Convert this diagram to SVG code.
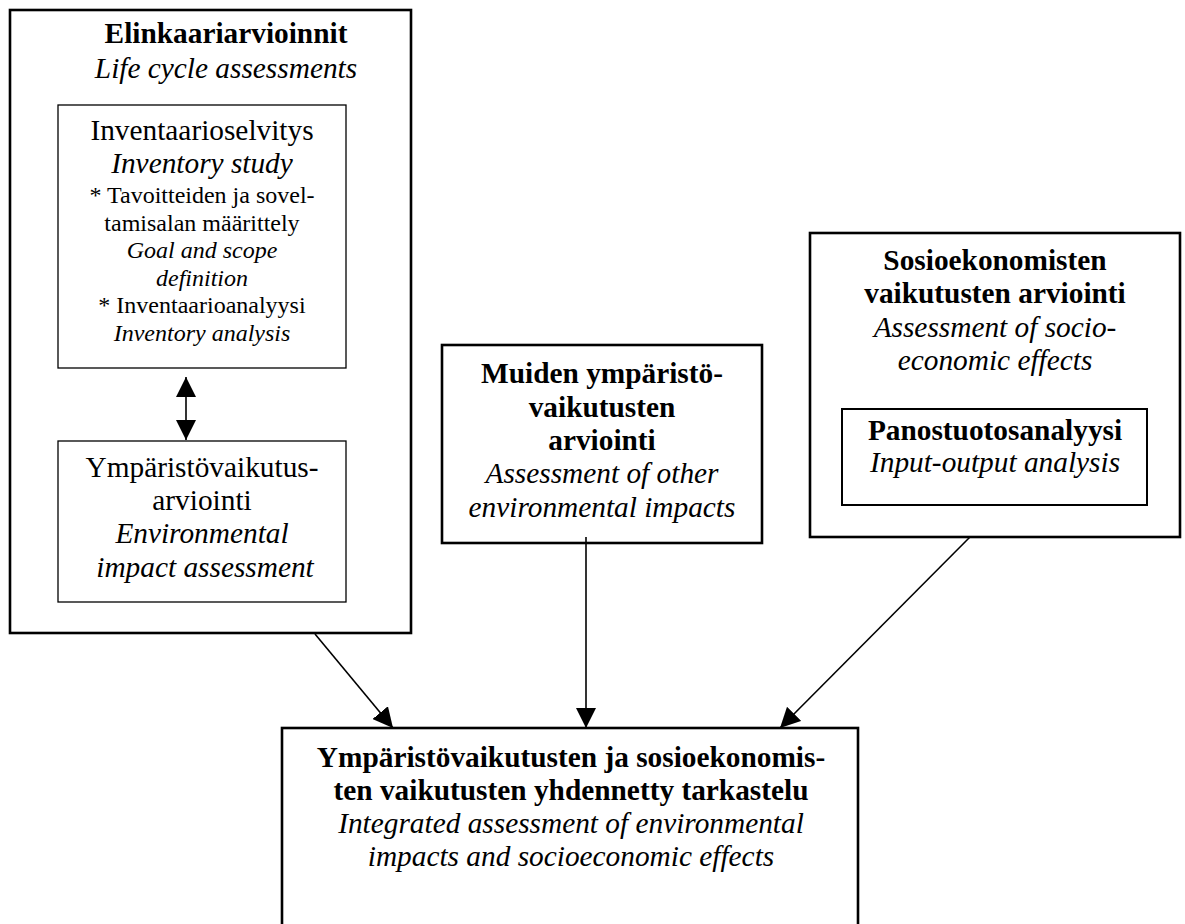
<svg xmlns="http://www.w3.org/2000/svg" width="1185" height="924" viewBox="0 0 1185 924">
  <style>
    text { font-family: "Liberation Serif", "Times New Roman", serif; fill: #000; text-anchor: middle; }
    .big { font-size: 29.33px; }
    .small { font-size: 24px; }
    .b { font-weight: bold; }
    .i { font-style: italic; }
    .outer { fill: #fff; stroke: #000; stroke-width: 2.6; }
    .inner { fill: #fff; stroke: #000; stroke-width: 1.3; }
    .inner2 { fill: #fff; stroke: #000; stroke-width: 2; }
    .conn { stroke: #000; stroke-width: 1.6; fill: none; }
  </style>
  <defs>
    <marker id="head" markerUnits="userSpaceOnUse" markerWidth="20" markerHeight="20" refX="20" refY="10" orient="auto-start-reverse" viewBox="0 0 20 20">
      <path d="M0,0 L20,10 L0,20 z" fill="#000"/>
    </marker>
  </defs>
  <rect width="1185" height="924" fill="#fff"/>

  <!-- Life cycle assessments (outer frame with two sub-boxes) -->
  <g id="lca">
    <rect class="outer" x="10" y="10" width="401" height="623"/>
    <text class="big b" x="226" y="43">Elinkaariarvioinnit</text>
    <text class="big i" x="226" y="78">Life cycle assessments</text>
  </g>
  <g id="inventory">
    <rect class="inner" x="58" y="105" width="288" height="263"/>
    <text class="big" x="202" y="140">Inventaarioselvitys</text>
    <text class="big i" x="202" y="173">Inventory study</text>
    <text class="small" x="202" y="203">* Tavoitteiden ja sovel-</text>
    <text class="small" x="202" y="230.5">tamisalan määrittely</text>
    <text class="small i" x="202" y="258">Goal and scope</text>
    <text class="small i" x="202" y="285.5">definition</text>
    <text class="small" x="202" y="313">* Inventaarioanalyysi</text>
    <text class="small i" x="202" y="341">Inventory analysis</text>
  </g>
  <g id="impact">
    <rect class="inner" x="58" y="441" width="288" height="161"/>
    <text class="big" x="202" y="477">Ympäristövaikutus-</text>
    <text class="big" x="202" y="510">arviointi</text>
    <text class="big i" x="202" y="543">Environmental</text>
    <text class="big i" x="205" y="577">impact assessment</text>
  </g>

  <!-- Other environmental impacts -->
  <g id="other">
    <rect class="outer" x="442" y="345" width="320" height="198"/>
    <text class="big b" x="602" y="383">Muiden ympäristö-</text>
    <text class="big b" x="602" y="417">vaikutusten</text>
    <text class="big b" x="602" y="450">arviointi</text>
    <text class="big i" x="602" y="483">Assessment of other</text>
    <text class="big i" x="602" y="517">environmental impacts</text>
  </g>

  <!-- Socioeconomic effects -->
  <g id="socio">
    <rect class="outer" x="810" y="233" width="370" height="304"/>
    <text class="big b" x="995" y="270">Sosioekonomisten</text>
    <text class="big b" x="995" y="303">vaikutusten arviointi</text>
    <text class="big i" x="995" y="337">Assessment of socio-</text>
    <text class="big i" x="995" y="370">economic effects</text>
  </g>
  <g id="input-output">
    <rect class="inner2" x="842" y="409" width="305" height="96"/>
    <text class="big b" x="995" y="440">Panostuotosanalyysi</text>
    <text class="big i" x="995" y="472">Input-output analysis</text>
  </g>

  <!-- Integrated assessment -->
  <g id="integrated">
    <rect class="outer" x="282" y="728" width="576" height="230"/>
    <text class="big b" x="571" y="767">Ympäristövaikutusten ja sosioekonomis-</text>
    <text class="big b" x="571" y="800">ten vaikutusten yhdennetty tarkastelu</text>
    <text class="big i" x="571" y="833">Integrated assessment of environmental</text>
    <text class="big i" x="571" y="866">impacts and socioeconomic effects</text>
  </g>

  <!-- Connectors -->
  <g id="connectors">
    <line class="conn" x1="186" y1="377" x2="186" y2="440" stroke-width="2.2" marker-start="url(#head)" marker-end="url(#head)"/>
    <line class="conn" x1="315" y1="634" x2="393" y2="728" marker-end="url(#head)"/>
    <line class="conn" x1="586" y1="537" x2="586" y2="728" marker-end="url(#head)"/>
    <line class="conn" x1="970" y1="537" x2="780" y2="728" marker-end="url(#head)"/>
  </g>
</svg>
